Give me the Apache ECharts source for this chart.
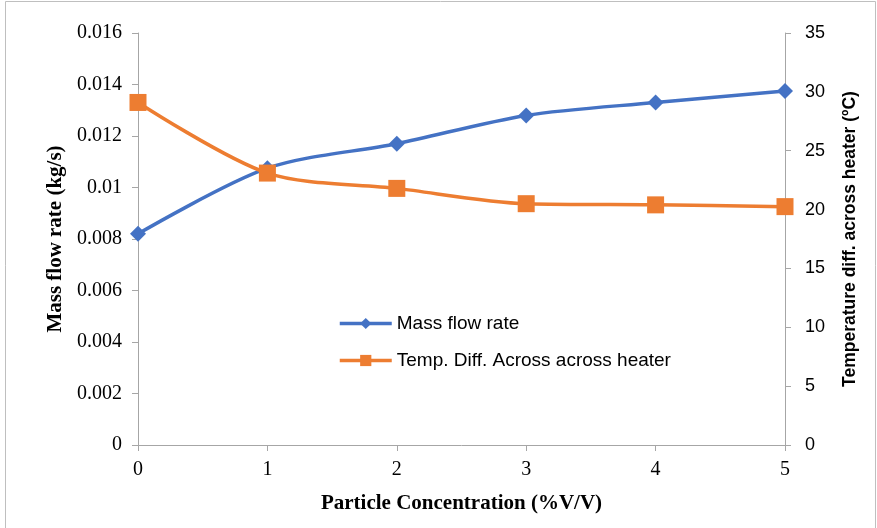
<!DOCTYPE html>
<html>
<head>
<meta charset="utf-8">
<script src="https://cdn.jsdelivr.net/npm/echarts@6/dist/echarts.min.js"></script>
<style>
  html, body { margin: 0; padding: 0; background: #fff; }
  #chart { width: 877px; height: 528px; }
</style>
</head>
<body>
<div id="chart"></div>
<script>
// particle concentration (%V/V)
var concentration = [0, 1, 2, 3, 4, 5];
// mass flow rate (kg/s)
var massFlow = [0.0082, 0.01075, 0.0117, 0.0128, 0.0133, 0.01375];
// temperature difference across heater (ºC)
var tempDiff = [29.1, 23.1, 21.8, 20.5, 20.4, 20.25];

function pairs(xs, ys) {
  return xs.map(function (x, i) { return [x, ys[i]]; });
}

var myChart = echarts.init(document.getElementById("chart"));
var serif = "Liberation Serif";
var sans = "Liberation Sans";
var axisGray = "#a6a6a6";

myChart.setOption({
  animation: false,
  graphic: [{
    type: "rect",
    shape: { x: 5.5, y: 1.5, width: 870, height: 540 },
    style: { fill: "none", stroke: "#bfbfbf", lineWidth: 1 },
    silent: true
  }],
  grid: { left: 138, right: 92, top: 33, bottom: 83 },
  legend: {
    orient: "vertical",
    left: 333,
    top: 309,
    itemGap: 18,
    itemWidth: 52,
    itemHeight: 14,
    lineStyle: { width: 3.5 },
    textStyle: { fontFamily: sans, fontSize: 19, color: "#000" },
    data: ["Mass flow rate", "Temp. Diff. Across across heater"]
  },
  xAxis: {
    type: "value",
    min: 0, max: 5, interval: 1,
    name: "Particle Concentration (%V/V)",
    nameLocation: "middle",
    nameGap: 48,
    nameTextStyle: { fontFamily: serif, fontSize: 21, fontWeight: "bold", color: "#000" },
    axisLine: { show: true, lineStyle: { color: axisGray } },
    axisTick: { show: true, inside: false, length: 6, lineStyle: { color: axisGray } },
    axisLabel: { fontFamily: serif, fontSize: 20, color: "#000", margin: 15 },
    splitLine: { show: false }
  },
  yAxis: [{
    type: "value",
    min: 0, max: 0.016, interval: 0.002,
    name: "Mass flow rate (kg/s)",
    nameLocation: "middle",
    nameRotate: 90,
    nameGap: 68,
    nameTextStyle: { fontFamily: serif, fontSize: 21, fontWeight: "bold", color: "#000" },
    axisLine: { show: true, lineStyle: { color: axisGray } },
    axisTick: { show: true, length: 6, lineStyle: { color: axisGray } },
    axisLabel: { fontFamily: serif, fontSize: 20, color: "#000", margin: 16 },
    splitLine: { show: false }
  }, {
    type: "value",
    position: "right",
    min: 0, max: 35, interval: 5,
    name: "Temperature diff. across heater (ºC)",
    nameLocation: "middle",
    nameRotate: 90,
    nameGap: 56,
    nameTextStyle: { fontFamily: sans, fontSize: 17.5, fontWeight: "bold", color: "#000" },
    axisLine: { show: true, lineStyle: { color: axisGray } },
    axisTick: { show: true, length: 6, lineStyle: { color: axisGray } },
    axisLabel: { fontFamily: sans, fontSize: 18, color: "#000", margin: 20 },
    splitLine: { show: false }
  }],
  series: [{
    name: "Mass flow rate",
    type: "line",
    yAxisIndex: 0,
    smooth: 0.3,
    data: pairs(concentration, massFlow),
    symbol: "diamond",
    symbolSize: 16,
    lineStyle: { color: "#4472c4", width: 3.5 },
    itemStyle: { color: "#4472c4" }
  }, {
    name: "Temp. Diff. Across across heater",
    type: "line",
    yAxisIndex: 1,
    smooth: 0.3,
    data: pairs(concentration, tempDiff),
    symbol: "rect",
    symbolSize: 17,
    lineStyle: { color: "#ed7d31", width: 3.5 },
    itemStyle: { color: "#ed7d31" }
  }]
});
</script>
</body>
</html>
